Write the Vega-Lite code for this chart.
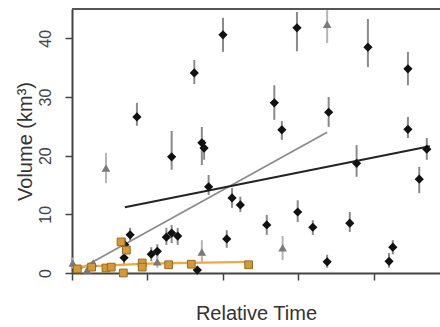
{
  "$schema": "https://vega.github.io/schema/vega-lite/v6.json",
  "width": 368,
  "height": 264,
  "autosize": {"type": "none"},
  "padding": {"left": 72, "top": 9, "right": 0, "bottom": 54},
  "background": "white",
  "config": {"view": {"stroke": null}, "font": "Liberation Sans"},
  "datasets": {
    "points": [
      {"series": "A", "t": 2.00, "v": 40.6, "lo": 37.7, "hi": 43.5},
      {"series": "A", "t": 2.98, "v": 41.8, "lo": 37.8, "hi": 44.5},
      {"series": "A", "t": 3.92, "v": 38.5, "lo": 35.1, "hi": 43.3},
      {"series": "A", "t": 4.45, "v": 34.8, "lo": 32.0, "hi": 37.7},
      {"series": "A", "t": 2.68, "v": 29.0, "lo": 26.1, "hi": 32.0},
      {"series": "A", "t": 2.78, "v": 24.4, "lo": 22.7, "hi": 25.9},
      {"series": "A", "t": 3.40, "v": 27.4, "lo": 24.9, "hi": 30.0},
      {"series": "A", "t": 4.45, "v": 24.5, "lo": 23.0, "hi": 26.6},
      {"series": "A", "t": 4.70, "v": 21.1, "lo": 19.3, "hi": 23.0},
      {"series": "A", "t": 0.86, "v": 26.6, "lo": 25.1, "hi": 29.0},
      {"series": "A", "t": 1.62, "v": 34.1, "lo": 32.2, "hi": 36.3},
      {"series": "A", "t": 1.32, "v": 19.8, "lo": 17.6, "hi": 24.2},
      {"series": "A", "t": 1.72, "v": 22.2, "lo": 18.4, "hi": 24.9},
      {"series": "A", "t": 1.75, "v": 21.3, "lo": 19.3, "hi": 22.7},
      {"series": "A", "t": 1.81, "v": 14.7, "lo": 13.3, "hi": 16.7},
      {"series": "A", "t": 2.12, "v": 12.8, "lo": 11.1, "hi": 14.5},
      {"series": "A", "t": 2.23, "v": 11.6, "lo": 10.4, "hi": 13.0},
      {"series": "A", "t": 2.58, "v": 8.2, "lo": 6.5, "hi": 9.9},
      {"series": "A", "t": 2.99, "v": 10.4, "lo": 8.7, "hi": 12.4},
      {"series": "A", "t": 2.05, "v": 5.8, "lo": 4.3, "hi": 7.3},
      {"series": "A", "t": 3.19, "v": 7.8, "lo": 6.5, "hi": 9.0},
      {"series": "A", "t": 3.38, "v": 1.9, "lo": 0.9, "hi": 3.1},
      {"series": "A", "t": 3.68, "v": 8.5, "lo": 7.0, "hi": 10.4},
      {"series": "A", "t": 4.20, "v": 2.0, "lo": 0.9, "hi": 3.4},
      {"series": "A", "t": 4.25, "v": 4.4, "lo": 3.2, "hi": 5.6},
      {"series": "A", "t": 4.60, "v": 16.0, "lo": 13.6, "hi": 18.1},
      {"series": "A", "t": 3.77, "v": 18.7, "lo": 16.4, "hi": 21.8},
      {"series": "A", "t": 0.77, "v": 6.5, "lo": 5.5, "hi": 7.7},
      {"series": "A", "t": 0.70, "v": 4.8, "lo": 3.6, "hi": 6.0},
      {"series": "A", "t": 0.69, "v": 2.6, "lo": 1.4, "hi": 3.6},
      {"series": "A", "t": 1.25, "v": 6.1, "lo": 4.8, "hi": 7.7},
      {"series": "A", "t": 1.32, "v": 6.8, "lo": 5.1, "hi": 8.2},
      {"series": "A", "t": 1.40, "v": 6.3, "lo": 4.8, "hi": 7.7},
      {"series": "A", "t": 1.05, "v": 3.2, "lo": 2.0, "hi": 4.4},
      {"series": "A", "t": 1.13, "v": 3.7, "lo": 2.6, "hi": 4.9},
      {"series": "A", "t": 1.66, "v": 0.5, "lo": 0.1, "hi": 1.0},
      {"series": "B", "t": 0.45, "v": 17.9, "lo": 15.3, "hi": 20.5},
      {"series": "B", "t": 3.38, "v": 42.4, "lo": 39.2, "hi": 44.8},
      {"series": "B", "t": 1.13, "v": 1.9, "lo": 0.9, "hi": 3.1},
      {"series": "B", "t": 1.72, "v": 3.6, "lo": 1.9, "hi": 5.6},
      {"series": "B", "t": 2.79, "v": 4.3, "lo": 2.2, "hi": 6.3},
      {"series": "B", "t": 0.01, "v": 1.7, "lo": 0.8, "hi": 2.6},
      {"series": "B", "t": 0.20, "v": 0.5, "lo": null, "hi": null},
      {"series": "B", "t": 0.28, "v": 1.7, "lo": null, "hi": null},
      {"series": "C", "t": 0.07, "v": 0.7, "lo": null, "hi": null},
      {"series": "C", "t": 0.26, "v": 1.0, "lo": null, "hi": null},
      {"series": "C", "t": 0.45, "v": 0.85, "lo": null, "hi": null},
      {"series": "C", "t": 0.52, "v": 1.0, "lo": null, "hi": null},
      {"series": "C", "t": 0.65, "v": 5.3, "lo": null, "hi": null},
      {"series": "C", "t": 0.72, "v": 3.9, "lo": null, "hi": null},
      {"series": "C", "t": 0.68, "v": 0.0, "lo": null, "hi": null},
      {"series": "C", "t": 0.93, "v": 1.7, "lo": null, "hi": null},
      {"series": "C", "t": 0.93, "v": 1.0, "lo": null, "hi": null},
      {"series": "C", "t": 1.28, "v": 1.4, "lo": null, "hi": null},
      {"series": "C", "t": 1.58, "v": 1.5, "lo": null, "hi": null},
      {"series": "C", "t": 2.34, "v": 1.4, "lo": null, "hi": null}
    ],
    "fits": [
      {"series": "A", "t": 0.70, "v": 11.2},
      {"series": "A", "t": 4.74, "v": 21.6},
      {"series": "B", "t": 0.04, "v": 0.2},
      {"series": "B", "t": 3.38, "v": 24.0},
      {"series": "C", "t": 0.0, "v": 1.0},
      {"series": "C", "t": 1.0, "v": 1.6},
      {"series": "C", "t": 2.32, "v": 1.9}
    ],
    "frame": [{"top": 45}]
  },
  "layer": [
    {
      "data": {"name": "frame"},
      "mark": {"type": "rule", "color": "#555555", "strokeWidth": 2},
      "encoding": {
        "y": {"field": "top", "type": "quantitative", "scale": {"domain": [0, 45], "nice": false}}
      }
    },
    {
      "data": {"name": "points"},
      "transform": [{"filter": "datum.series == 'A' && datum.lo != null"}],
      "mark": {"type": "rule", "strokeWidth": 2, "color": "#8a8a8a"},
      "encoding": {
        "x": {
          "field": "t", "type": "quantitative",
          "scale": {"domain": [0, 4.875], "nice": false, "zero": false},
          "axis": {
            "title": "Relative Time", "values": [0, 1, 2, 3, 4], "labels": false,
            "grid": false, "domainColor": "#444444", "domainWidth": 2,
            "tickColor": "#444444", "tickWidth": 1.5, "tickSize": 7,
            "titleFont": "Liberation Sans", "titleFontSize": 20, "titleFontWeight": "normal",
            "titleColor": "#333333", "titlePadding": 23
          }
        },
        "y": {
          "field": "lo", "type": "quantitative",
          "scale": {"domain": [0, 45], "nice": false},
          "axis": {
            "title": "Volume (km³)", "values": [0, 5, 10, 15, 20, 25, 30, 35, 40],
            "labelExpr": "datum.value % 10 == 0 ? datum.label : ''",
            "grid": false, "domainColor": "#444444", "domainWidth": 2,
            "tickColor": "#444444", "tickWidth": 1.5, "tickSize": 7,
            "labelAngle": -90, "labelAlign": "center", "labelBaseline": "bottom",
            "labelPadding": 12, "labelFontSize": 16, "labelColor": "#444444",
            "labelFont": "Liberation Sans",
            "titleFont": "Liberation Sans", "titleFontSize": 20, "titleFontWeight": "normal",
            "titleColor": "#333333", "titlePadding": 2
          }
        },
        "y2": {"field": "hi"}
      }
    },
    {
      "data": {"name": "points"},
      "transform": [{"filter": "datum.series == 'B' && datum.lo != null"}],
      "mark": {"type": "rule", "strokeWidth": 2, "color": "#b5b5b5"},
      "encoding": {
        "x": {"field": "t", "type": "quantitative"},
        "y": {"field": "lo", "type": "quantitative"},
        "y2": {"field": "hi"}
      }
    },
    {
      "data": {"name": "fits"},
      "transform": [{"filter": "datum.series == 'B'"}],
      "mark": {"type": "line", "strokeWidth": 1.8, "color": "#8c8c8c"},
      "encoding": {
        "x": {"field": "t", "type": "quantitative"},
        "y": {"field": "v", "type": "quantitative"}
      }
    },
    {
      "data": {"name": "fits"},
      "transform": [{"filter": "datum.series == 'A'"}],
      "mark": {"type": "line", "strokeWidth": 2, "color": "#222222"},
      "encoding": {
        "x": {"field": "t", "type": "quantitative"},
        "y": {"field": "v", "type": "quantitative"}
      }
    },
    {
      "data": {"name": "fits"},
      "transform": [{"filter": "datum.series == 'C'"}],
      "mark": {"type": "line", "strokeWidth": 2.2, "color": "#f2a83a"},
      "encoding": {
        "x": {"field": "t", "type": "quantitative"},
        "y": {"field": "v", "type": "quantitative"}
      }
    },
    {
      "data": {"name": "points"},
      "transform": [{"filter": "datum.series == 'A'"}],
      "mark": {"type": "point", "shape": "diamond", "filled": true, "size": 85, "color": "#111111", "opacity": 1},
      "encoding": {
        "x": {"field": "t", "type": "quantitative"},
        "y": {"field": "v", "type": "quantitative"}
      }
    },
    {
      "data": {"name": "points"},
      "transform": [{"filter": "datum.series == 'B'"}],
      "mark": {"type": "point", "shape": "triangle-up", "filled": true, "size": 75, "color": "#7a7a7a", "opacity": 1},
      "encoding": {
        "x": {"field": "t", "type": "quantitative"},
        "y": {"field": "v", "type": "quantitative"}
      }
    },
    {
      "data": {"name": "points"},
      "transform": [{"filter": "datum.series == 'C'"}],
      "mark": {"type": "point", "shape": "square", "filled": true, "size": 60, "fill": "#d49a38", "stroke": "#9a6a1c", "strokeWidth": 1, "opacity": 1, "fillOpacity": 1},
      "encoding": {
        "x": {"field": "t", "type": "quantitative"},
        "y": {"field": "v", "type": "quantitative"}
      }
    }
  ]
}
